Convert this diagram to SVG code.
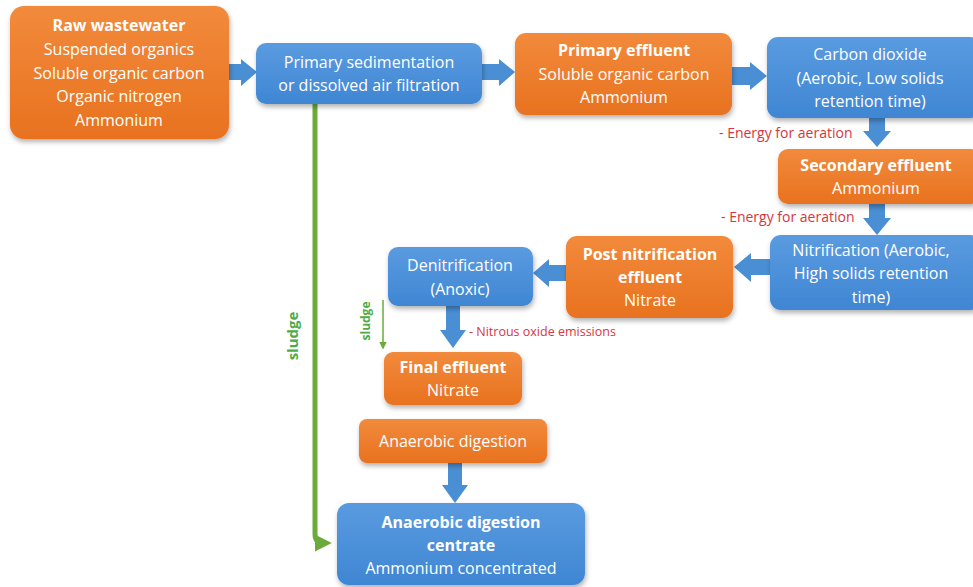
<svg xmlns="http://www.w3.org/2000/svg" width="973" height="587" viewBox="0 0 973 587">
  <defs>
    <linearGradient id="gOrange" x1="0" y1="0" x2="0" y2="1">
      <stop offset="0" stop-color="#f28a3c"/>
      <stop offset="1" stop-color="#e8721f"/>
    </linearGradient>
    <linearGradient id="gBlue" x1="0" y1="0" x2="0" y2="1">
      <stop offset="0" stop-color="#5a9be0"/>
      <stop offset="1" stop-color="#3f86d3"/>
    </linearGradient>
    <filter id="shadow" x="-10%" y="-10%" width="125%" height="135%">
      <feDropShadow dx="1" dy="3" stdDeviation="2.5" flood-color="#000" flood-opacity="0.3"/>
    </filter>
    <marker id="greenHead" viewBox="0 0 10 10" refX="6" refY="5" markerWidth="3.4" markerHeight="3.4" orient="auto">
      <path d="M0,0 L10,5 L0,10 z" fill="#6aab3b"/>
    </marker>
    <marker id="greenHeadSmall" viewBox="0 0 10 10" refX="8" refY="5" markerWidth="5" markerHeight="5" orient="auto">
      <path d="M0,0 L10,5 L0,10 z" fill="#6aab3b"/>
    </marker>
  </defs>
  <style>
    .orange { fill: url(#gOrange); filter: url(#shadow); }
    .blue { fill: url(#gBlue); filter: url(#shadow); }
    text { font-family: "Open Sans", "Lato", "Liberation Sans", sans-serif; }
    .t { fill: #ffffff; font-size: 16px; text-anchor: middle; }
    .b { font-weight: bold; }
    .arrow { fill: #4a8fd4; }
    .red { fill: #d63640; font-size: 14px; }
    .redS { fill: #d63640; font-size: 12.5px; }
    .green { fill: #4fab45; font-weight: bold; }
  </style>

  <!-- connectors -->
  <g id="connectors">
    <!-- sludge line from primary sedimentation to centrate -->
    <path d="M315,104 L315,534 Q315,543 324,543 L325,543" fill="none" stroke="#6aab3b" stroke-width="5" marker-end="url(#greenHead)"/>
    <text class="green" font-size="15" transform="translate(298,336) rotate(-90)" text-anchor="middle">sludge</text>
    <!-- small sludge arrow -->
    <path d="M383,300 L383,348" fill="none" stroke="#6aab3b" stroke-width="1.5" marker-end="url(#greenHeadSmall)"/>
    <text class="green" font-size="12" transform="translate(370,321) rotate(-90)" text-anchor="middle">sludge</text>

    <!-- raw -> primary sedimentation -->
    <path class="arrow" d="M228,64 L241,64 L241,59 L257,72 L241,86 L241,80 L228,80 z"/>
    <!-- primary sedimentation -> primary effluent -->
    <path class="arrow" d="M482,64 L499,64 L499,59 L515,72 L499,86 L499,80 L482,80 z"/>
    <!-- primary effluent -> carbon dioxide -->
    <path class="arrow" d="M732,67 L750,67 L750,62 L767,76 L750,90 L750,85 L732,85 z"/>
    <!-- carbon dioxide -> secondary effluent -->
    <path class="arrow" d="M869,118 L869,131 L863,131 L877,147 L891,131 L885,131 L885,118 z"/>
    <text class="red" x="719" y="138">- Energy for aeration</text>
    <!-- secondary effluent -> nitrification -->
    <path class="arrow" d="M869,204 L869,218 L863,218 L877,235 L891,218 L885,218 L885,204 z"/>
    <text class="red" x="721" y="222">- Energy for aeration</text>
    <!-- nitrification -> post nitrification effluent -->
    <path class="arrow" d="M770,259 L751,259 L751,253 L734,267 L751,282 L751,275 L770,275 z"/>
    <!-- post nitrification effluent -> denitrification -->
    <path class="arrow" d="M566,265 L549,265 L549,259 L533,273 L549,287 L549,281 L566,281 z"/>
    <!-- denitrification -> final effluent -->
    <path class="arrow" d="M446,306 L446,330 L440,330 L453,348 L466,330 L460,330 L460,306 z"/>
    <text class="redS" x="469" y="336">- Nitrous oxide emissions</text>
    <!-- anaerobic digestion -> centrate -->
    <path class="arrow" d="M448,463 L448,485 L442,485 L455,503 L468,485 L462,485 L462,463 z"/>
  </g>

  <g id="raw-wastewater">
    <rect class="orange" x="10" y="6" width="219" height="133" rx="14"/>
    <text class="t b" x="119" y="31">Raw wastewater</text>
    <text class="t" x="119" y="55">Suspended organics</text>
    <text class="t" x="119" y="79">Soluble organic carbon</text>
    <text class="t" x="119" y="102">Organic nitrogen</text>
    <text class="t" x="119" y="126">Ammonium</text>
  </g>

  <g id="primary-sedimentation">
    <rect class="blue" x="256" y="43" width="226" height="61" rx="10"/>
    <text class="t" x="369" y="68">Primary sedimentation</text>
    <text class="t" x="369" y="91">or dissolved air filtration</text>
  </g>

  <g id="primary-effluent">
    <rect class="orange" x="515" y="33" width="217" height="82" rx="11"/>
    <text class="t b" x="624" y="56">Primary effluent</text>
    <text class="t" x="624" y="80">Soluble organic carbon</text>
    <text class="t" x="624" y="103">Ammonium</text>
  </g>

  <g id="carbon-dioxide">
    <rect class="blue" x="767" y="37" width="214" height="81" rx="11"/>
    <text class="t" x="870" y="60">Carbon dioxide</text>
    <text class="t" x="870" y="84">(Aerobic, Low solids</text>
    <text class="t" x="870" y="107">retention time)</text>
  </g>

  <g id="secondary-effluent">
    <rect class="orange" x="778" y="149" width="203" height="55" rx="10"/>
    <text class="t b" x="876" y="171">Secondary effluent</text>
    <text class="t" x="876" y="194">Ammonium</text>
  </g>

  <g id="nitrification">
    <rect class="blue" x="770" y="235" width="211" height="75" rx="11"/>
    <text class="t" x="871" y="256">Nitrification (Aerobic,</text>
    <text class="t" x="871" y="279">High solids retention</text>
    <text class="t" x="871" y="303">time)</text>
  </g>

  <g id="post-nitrification-effluent">
    <rect class="orange" x="566" y="236" width="167" height="82" rx="11"/>
    <text class="t b" x="650" y="260">Post nitrification</text>
    <text class="t b" x="650" y="283">effluent</text>
    <text class="t" x="650" y="306">Nitrate</text>
  </g>

  <g id="denitrification">
    <rect class="blue" x="388" y="247" width="145" height="59" rx="10"/>
    <text class="t" x="460" y="271">Denitrification</text>
    <text class="t" x="460" y="295">(Anoxic)</text>
  </g>

  <g id="final-effluent">
    <rect class="orange" x="384" y="352" width="138" height="53" rx="9"/>
    <text class="t b" x="453" y="373">Final effluent</text>
    <text class="t" x="453" y="396">Nitrate</text>
  </g>

  <g id="anaerobic-digestion">
    <rect class="orange" x="359" y="419" width="188" height="44" rx="8"/>
    <text class="t" x="453" y="447">Anaerobic digestion</text>
  </g>

  <g id="digestion-centrate">
    <rect class="blue" x="337" y="503" width="248" height="82" rx="12"/>
    <text class="t b" x="461" y="528">Anaerobic digestion</text>
    <text class="t b" x="461" y="551">centrate</text>
    <text class="t" x="461" y="574">Ammonium concentrated</text>
  </g>
</svg>
